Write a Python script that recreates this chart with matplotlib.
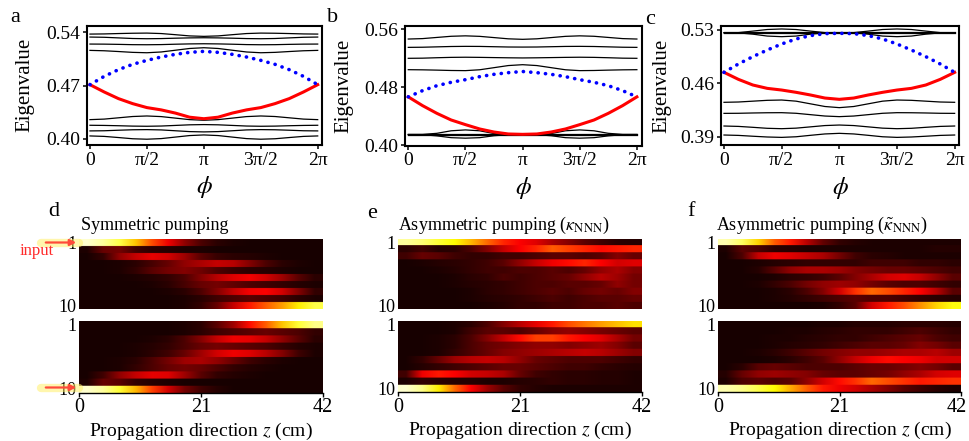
import numpy as np
import matplotlib.pyplot as plt
from matplotlib.transforms import ScaledTranslation

plt.rcParams['font.family'] = ['Liberation Serif', 'DejaVu Serif']
plt.rcParams['mathtext.fontset'] = 'stix'

W, H = 969, 441

# phase samples k*pi/8, k = 0..16
phi = np.linspace(0, 2 * np.pi, 17)
phi_ticks = [0, np.pi / 2, np.pi, 3 * np.pi / 2, 2 * np.pi]
phi_labels = ['0', 'π/2', 'π', '3π/2', '2π']

# ---- panel a: eigenvalues ----
a_bands = [
    [.5377, .5379, .5384, .5388, .5390, .5384, .5369, .5353, .5347, .5353, .5369, .5384, .5390, .5388, .5384, .5379, .5377],
    [.5338, .5335, .5327, .5319, .5316, .5318, .5323, .5327, .5329, .5327, .5323, .5318, .5316, .5319, .5327, .5335, .5338],
    [.5246, .5245, .5242, .5238, .5237, .5239, .5244, .5248, .5250, .5248, .5244, .5239, .5237, .5238, .5242, .5245, .5246],
    [.5163, .5158, .5148, .5137, .5132, .5142, .5165, .5188, .5198, .5188, .5165, .5142, .5132, .5137, .5148, .5158, .5163],
    [.4254, .4261, .4278, .4295, .4302, .4294, .4274, .4254, .4246, .4254, .4274, .4294, .4302, .4295, .4278, .4261, .4254],
    [.4180, .4178, .4174, .4169, .4167, .4170, .4178, .4186, .4189, .4186, .4178, .4170, .4167, .4169, .4174, .4178, .4180],
    [.4106, .4108, .4115, .4121, .4123, .4119, .4108, .4097, .4093, .4097, .4108, .4119, .4123, .4121, .4115, .4108, .4106],
    [.4040, .4034, .4019, .4003, .3997, .4005, .4025, .4045, .4053, .4045, .4025, .4005, .3997, .4003, .4019, .4034, .4040],
]
a_blue = [.4713, .4822, .4910, .4980, .5032, .5076, .5111, .5137, .5150, .5137, .5111, .5076, .5032, .4980, .4910, .4822, .4713]
a_red = [.4713, .4617, .4530, .4464, .4412, .4382, .4340, .4286, .4266, .4286, .4340, .4382, .4412, .4464, .4530, .4617, .4713]
a_yticks = [0.40, 0.47, 0.54]

# ---- panel b ----
b_bands = [
    [.5466, .5472, .5488, .5504, .5510, .5503, .5486, .5469, .5462, .5469, .5486, .5503, .5510, .5504, .5488, .5472, .5466],
    [.5351, .5353, .5358, .5363, .5365, .5364, .5360, .5356, .5355, .5356, .5360, .5364, .5365, .5363, .5358, .5353, .5351],
    [.5200, .5202, .5208, .5213, .5215, .5213, .5210, .5207, .5205, .5207, .5210, .5213, .5215, .5213, .5208, .5202, .5200],
    [.5043, .5041, .5037, .5032, .5030, .5042, .5071, .5100, .5112, .5100, .5071, .5042, .5030, .5032, .5037, .5041, .5043],
    [.4150, .4150, .4165, .4200, .4212, .4200, .4162, .4150, .4150, .4150, .4162, .4200, .4212, .4200, .4165, .4150, .4150],
    [.4146, .4146, .4130, .4105, .4098, .4105, .4132, .4146, .4146, .4146, .4132, .4105, .4098, .4105, .4130, .4146, .4146],
    [.4153, .4153, .4153, .4153, .4153, .4153, .4153, .4153, .4153, .4153, .4153, .4153, .4153, .4153, .4153, .4153, .4153],
    [.4141, .4141, .4141, .4141, .4141, .4141, .4141, .4141, .4141, .4141, .4141, .4141, .4141, .4141, .4141, .4141, .4141],
]
b_blue = [.4668, .4754, .4822, .4869, .4905, .4947, .4979, .5002, .5018, .5002, .4979, .4947, .4905, .4869, .4822, .4754, .4668]
b_red = [.4668, .4547, .4441, .4349, .4285, .4225, .4183, .4156, .4151, .4156, .4183, .4225, .4285, .4349, .4441, .4547, .4668]
b_yticks = [0.40, 0.48, 0.56]

# ---- panel c ----
c_bands = [
    [.5265, .5265, .5285, .5306, .5313, .5306, .5285, .5265, .5265, .5265, .5285, .5306, .5313, .5306, .5285, .5265, .5265],
    [.5262, .5262, .5245, .5220, .5212, .5220, .5245, .5262, .5262, .5262, .5245, .5220, .5212, .5220, .5245, .5262, .5262],
    [.5268, .5268, .5268, .5268, .5268, .5268, .5268, .5268, .5268, .5268, .5268, .5268, .5268, .5268, .5268, .5268, .5268],
    [.5259, .5259, .5259, .5259, .5259, .5259, .5259, .5259, .5259, .5259, .5259, .5259, .5259, .5259, .5259, .5259, .5259],
    [.4351, .4355, .4366, .4377, .4381, .4366, .4331, .4296, .4281, .4296, .4331, .4366, .4381, .4377, .4366, .4355, .4351],
    [.4206, .4207, .4211, .4214, .4215, .4207, .4189, .4171, .4163, .4171, .4189, .4207, .4215, .4214, .4211, .4207, .4206],
    [.4040, .4035, .4023, .4010, .4005, .4012, .4029, .4046, .4053, .4046, .4029, .4012, .4005, .4010, .4023, .4035, .4040],
    [.3922, .3917, .3906, .3896, .3891, .3899, .3918, .3936, .3944, .3936, .3918, .3899, .3891, .3896, .3906, .3917, .3922],
]
c_blue = [.4744, .4854, .4950, .5037, .5116, .5182, .5226, .5252, .5256, .5252, .5226, .5182, .5116, .5037, .4950, .4854, .4744]
c_red = [.4744, .4652, .4578, .4534, .4512, .4482, .4447, .4407, .4390, .4407, .4447, .4482, .4512, .4534, .4578, .4652, .4744]
c_yticks = [0.39, 0.46, 0.53]

# ---- propagation intensity, waveguides 1..10, z = 0, 3, ..., 42 cm ----
z_ticks = [0, 21, 42]

d_up = [
    [0.95, 0.90, 0.82, 0.66, 0.48, 0.34, 0.20, 0.10, 0.05, 0.03, 0.02, 0.02, 0.02, 0.02, 0.02],
    [0.03, 0.14, 0.16, 0.08, 0.05, 0.04, 0.03, 0.03, 0.02, 0.02, 0.02, 0.02, 0.02, 0.02, 0.02],
    [0.02, 0.06, 0.20, 0.28, 0.33, 0.30, 0.22, 0.12, 0.07, 0.05, 0.04, 0.03, 0.02, 0.02, 0.02],
    [0.02, 0.02, 0.03, 0.05, 0.09, 0.14, 0.20, 0.24, 0.28, 0.26, 0.18, 0.10, 0.05, 0.03, 0.02],
    [0.02, 0.02, 0.03, 0.06, 0.12, 0.16, 0.18, 0.15, 0.10, 0.07, 0.05, 0.04, 0.03, 0.02, 0.02],
    [0.02, 0.02, 0.02, 0.03, 0.04, 0.06, 0.10, 0.18, 0.26, 0.32, 0.35, 0.30, 0.22, 0.12, 0.05],
    [0.02, 0.02, 0.02, 0.02, 0.03, 0.05, 0.09, 0.14, 0.16, 0.13, 0.10, 0.08, 0.06, 0.04, 0.03],
    [0.02, 0.02, 0.02, 0.02, 0.02, 0.03, 0.05, 0.10, 0.18, 0.28, 0.35, 0.36, 0.30, 0.18, 0.06],
    [0.02, 0.02, 0.02, 0.02, 0.02, 0.02, 0.03, 0.05, 0.08, 0.10, 0.12, 0.10, 0.08, 0.05, 0.03],
    [0.02, 0.02, 0.02, 0.02, 0.02, 0.02, 0.03, 0.06, 0.14, 0.28, 0.40, 0.50, 0.60, 0.72, 0.82],
]
d_low = [
    [0.02, 0.02, 0.02, 0.02, 0.02, 0.02, 0.03, 0.05, 0.12, 0.22, 0.38, 0.50, 0.66, 0.80, 0.88],
    [0.02, 0.02, 0.02, 0.02, 0.02, 0.02, 0.03, 0.05, 0.08, 0.10, 0.12, 0.14, 0.12, 0.10, 0.06],
    [0.02, 0.02, 0.02, 0.02, 0.03, 0.05, 0.10, 0.18, 0.28, 0.34, 0.33, 0.28, 0.20, 0.12, 0.05],
    [0.02, 0.02, 0.02, 0.03, 0.04, 0.06, 0.10, 0.14, 0.16, 0.14, 0.12, 0.10, 0.07, 0.04, 0.03],
    [0.02, 0.02, 0.02, 0.03, 0.05, 0.08, 0.14, 0.22, 0.30, 0.34, 0.32, 0.26, 0.18, 0.08, 0.03],
    [0.02, 0.02, 0.03, 0.05, 0.10, 0.16, 0.22, 0.24, 0.20, 0.14, 0.08, 0.05, 0.03, 0.02, 0.02],
    [0.02, 0.02, 0.03, 0.06, 0.10, 0.14, 0.16, 0.14, 0.10, 0.06, 0.04, 0.03, 0.02, 0.02, 0.02],
    [0.02, 0.08, 0.20, 0.28, 0.33, 0.32, 0.22, 0.12, 0.06, 0.04, 0.03, 0.02, 0.02, 0.02, 0.02],
    [0.03, 0.14, 0.12, 0.06, 0.04, 0.03, 0.02, 0.02, 0.02, 0.02, 0.02, 0.02, 0.02, 0.02, 0.02],
    [0.95, 0.90, 0.80, 0.64, 0.46, 0.30, 0.16, 0.08, 0.04, 0.02, 0.02, 0.02, 0.02, 0.02, 0.02],
]
e_up = [
    [0.90, 0.86, 0.80, 0.74, 0.64, 0.52, 0.42, 0.36, 0.32, 0.24, 0.18, 0.12, 0.08, 0.05, 0.04],
    [0.05, 0.08, 0.04, 0.05, 0.10, 0.18, 0.28, 0.36, 0.42, 0.50, 0.46, 0.42, 0.38, 0.40, 0.42],
    [0.08, 0.14, 0.12, 0.08, 0.06, 0.06, 0.08, 0.08, 0.10, 0.12, 0.12, 0.10, 0.12, 0.18, 0.14],
    [0.02, 0.03, 0.04, 0.05, 0.06, 0.08, 0.12, 0.20, 0.28, 0.34, 0.38, 0.42, 0.36, 0.30, 0.32],
    [0.02, 0.02, 0.03, 0.04, 0.06, 0.08, 0.08, 0.10, 0.10, 0.12, 0.10, 0.14, 0.20, 0.24, 0.18],
    [0.02, 0.02, 0.02, 0.03, 0.05, 0.06, 0.10, 0.08, 0.10, 0.12, 0.14, 0.20, 0.26, 0.22, 0.16],
    [0.02, 0.02, 0.02, 0.03, 0.04, 0.05, 0.06, 0.08, 0.10, 0.10, 0.12, 0.12, 0.14, 0.20, 0.16],
    [0.02, 0.02, 0.02, 0.02, 0.03, 0.05, 0.06, 0.08, 0.10, 0.12, 0.10, 0.14, 0.16, 0.14, 0.18],
    [0.02, 0.02, 0.02, 0.02, 0.03, 0.04, 0.05, 0.06, 0.08, 0.10, 0.08, 0.10, 0.12, 0.12, 0.14],
    [0.02, 0.02, 0.02, 0.02, 0.02, 0.03, 0.04, 0.06, 0.06, 0.08, 0.08, 0.10, 0.10, 0.12, 0.10],
]
e_low = [
    [0.02, 0.02, 0.02, 0.03, 0.05, 0.10, 0.18, 0.26, 0.33, 0.40, 0.48, 0.54, 0.60, 0.65, 0.70],
    [0.02, 0.02, 0.02, 0.03, 0.08, 0.12, 0.12, 0.10, 0.14, 0.18, 0.20, 0.18, 0.16, 0.14, 0.12],
    [0.02, 0.02, 0.03, 0.05, 0.10, 0.18, 0.28, 0.38, 0.46, 0.46, 0.40, 0.36, 0.32, 0.24, 0.16],
    [0.02, 0.02, 0.03, 0.05, 0.10, 0.14, 0.16, 0.18, 0.20, 0.20, 0.18, 0.20, 0.22, 0.18, 0.12],
    [0.02, 0.02, 0.03, 0.06, 0.10, 0.14, 0.18, 0.20, 0.22, 0.24, 0.26, 0.28, 0.26, 0.22, 0.18],
    [0.02, 0.06, 0.14, 0.22, 0.26, 0.28, 0.26, 0.20, 0.14, 0.12, 0.10, 0.10, 0.10, 0.08, 0.06],
    [0.02, 0.04, 0.06, 0.08, 0.10, 0.12, 0.14, 0.14, 0.12, 0.10, 0.08, 0.08, 0.06, 0.05, 0.04],
    [0.08, 0.34, 0.40, 0.36, 0.30, 0.28, 0.24, 0.14, 0.08, 0.06, 0.05, 0.05, 0.04, 0.04, 0.03],
    [0.03, 0.06, 0.05, 0.04, 0.04, 0.03, 0.03, 0.04, 0.05, 0.06, 0.05, 0.05, 0.04, 0.04, 0.03],
    [0.95, 0.88, 0.72, 0.52, 0.36, 0.22, 0.12, 0.06, 0.04, 0.03, 0.03, 0.03, 0.03, 0.03, 0.03],
]
f_up = [
    [0.92, 0.84, 0.68, 0.50, 0.40, 0.26, 0.13, 0.06, 0.04, 0.03, 0.03, 0.03, 0.03, 0.03, 0.03],
    [0.03, 0.12, 0.10, 0.05, 0.04, 0.03, 0.03, 0.03, 0.03, 0.03, 0.03, 0.03, 0.03, 0.04, 0.04],
    [0.02, 0.10, 0.28, 0.34, 0.32, 0.28, 0.24, 0.16, 0.08, 0.05, 0.04, 0.03, 0.03, 0.03, 0.03],
    [0.02, 0.02, 0.03, 0.04, 0.05, 0.06, 0.06, 0.06, 0.06, 0.08, 0.08, 0.08, 0.06, 0.06, 0.05],
    [0.02, 0.02, 0.04, 0.12, 0.20, 0.24, 0.24, 0.22, 0.18, 0.16, 0.14, 0.14, 0.12, 0.10, 0.08],
    [0.02, 0.02, 0.02, 0.03, 0.05, 0.06, 0.08, 0.12, 0.18, 0.24, 0.30, 0.32, 0.28, 0.20, 0.12],
    [0.02, 0.02, 0.03, 0.06, 0.10, 0.16, 0.20, 0.22, 0.20, 0.16, 0.12, 0.10, 0.10, 0.08, 0.06],
    [0.02, 0.02, 0.02, 0.03, 0.05, 0.10, 0.18, 0.30, 0.44, 0.52, 0.48, 0.42, 0.36, 0.26, 0.12],
    [0.02, 0.02, 0.02, 0.03, 0.04, 0.06, 0.08, 0.10, 0.12, 0.10, 0.10, 0.08, 0.06, 0.05, 0.04],
    [0.02, 0.02, 0.02, 0.02, 0.02, 0.02, 0.03, 0.06, 0.12, 0.30, 0.40, 0.48, 0.58, 0.68, 0.76],
]
f_low = [
    [0.02, 0.02, 0.02, 0.02, 0.02, 0.02, 0.03, 0.03, 0.04, 0.04, 0.04, 0.05, 0.05, 0.05, 0.04],
    [0.02, 0.02, 0.02, 0.02, 0.03, 0.03, 0.04, 0.05, 0.06, 0.06, 0.06, 0.08, 0.10, 0.08, 0.06],
    [0.02, 0.02, 0.02, 0.03, 0.03, 0.04, 0.05, 0.06, 0.06, 0.08, 0.10, 0.12, 0.14, 0.10, 0.08],
    [0.02, 0.02, 0.02, 0.03, 0.04, 0.05, 0.06, 0.08, 0.10, 0.12, 0.12, 0.14, 0.18, 0.16, 0.12],
    [0.02, 0.02, 0.03, 0.05, 0.08, 0.12, 0.16, 0.18, 0.20, 0.20, 0.22, 0.24, 0.24, 0.26, 0.22],
    [0.02, 0.02, 0.02, 0.03, 0.05, 0.08, 0.12, 0.20, 0.28, 0.34, 0.38, 0.36, 0.34, 0.30, 0.30],
    [0.02, 0.05, 0.12, 0.14, 0.12, 0.10, 0.10, 0.10, 0.12, 0.14, 0.14, 0.16, 0.18, 0.16, 0.12],
    [0.04, 0.14, 0.20, 0.22, 0.20, 0.18, 0.14, 0.12, 0.12, 0.14, 0.16, 0.20, 0.24, 0.30, 0.32],
    [0.03, 0.10, 0.12, 0.10, 0.12, 0.20, 0.30, 0.38, 0.44, 0.52, 0.48, 0.44, 0.40, 0.42, 0.44],
    [0.92, 0.88, 0.82, 0.74, 0.62, 0.50, 0.40, 0.34, 0.30, 0.24, 0.18, 0.12, 0.08, 0.05, 0.03],
]


def box(x0, y0, x1, y1):
    # pixel box -> figure fraction
    return [x0 / W, 1 - y1 / H, (x1 - x0) / W, (y1 - y0) / H]


fig = plt.figure(figsize=(W / 100, H / 100), dpi=100)


def band_panel(rect, bands, blue, red, ylim, yticks, ylab_x):
    ax = fig.add_axes(rect)
    for b in bands:
        ax.plot(phi, b, color='black', lw=0.9)
    ax.plot(phi, red, color='red', lw=2.2, zorder=3)
    ax.plot(phi, blue, color='blue', lw=2.6, linestyle=(0, (0.05, 2.0)),
            dash_capstyle='round', zorder=4)
    ax.set_xlim(-0.09, 6.41)
    ax.set_ylim(*ylim)
    ax.set_xticks(phi_ticks)
    ax.set_xticklabels(phi_labels)
    ax.set_yticks(yticks)
    ax.set_yticklabels([f'{v:.2f}' for v in yticks])
    ax.tick_params(direction='out', length=3, width=1.1, labelsize=14, pad=2)
    for s in ax.spines.values():
        s.set_linewidth(1.5)
    ax.set_xlabel(r'$\phi$', fontsize=18)
    ax.xaxis.set_label_coords(0.5, -0.25)
    ax.set_ylabel('Eigenvalue', fontsize=15)
    ax.yaxis.set_label_coords(ylab_x, 0.5)
    return ax


def heat(rect, data, bottom_axis):
    ax = fig.add_axes(rect)
    img = np.repeat(np.array(data), 8, axis=0)
    ax.imshow(img, cmap='hot', vmin=0, vmax=1, aspect='auto',
              interpolation='bilinear', extent=(0, 42, 10.5, 0.5))
    ax.set_xlim(0, 42)
    ax.set_ylim(10.5, 0.5)
    ax.set_yticks([1, 10])
    ax.set_yticklabels(['1', '10'])
    ax.tick_params(axis='y', length=0, labelsize=13, pad=2)
    for s in ['top', 'right', 'left']:
        ax.spines[s].set_visible(False)
    if bottom_axis:
        ax.set_xticks(z_ticks)
        ax.tick_params(axis='x', direction='out', length=3, width=1,
                       labelsize=14.5, pad=1)
        ax.spines['bottom'].set_linewidth(1)
        ax.set_xlabel(r'Propagation direction $z$ (cm)', fontsize=14)
        ax.xaxis.set_label_coords(0.5, -0.39)
    else:
        ax.spines['bottom'].set_visible(False)
        ax.set_xticks([])
    return ax


band_panel(box(86.7, 25.7, 322.3, 144.7), a_bands, a_blue, a_red, (0.3925, 0.5487), a_yticks, -0.22)
band_panel(box(405, 25.7, 641.5, 145.5), b_bands, b_blue, b_red, (0.3997, 0.565), b_yticks, -0.22)
band_panel(box(720.7, 26, 959.3, 145), c_bands, c_blue, c_red, (0.3791, 0.5352), c_yticks, -0.205)

heat(box(79, 239.3, 322.7, 309.3), d_up, False)
heat(box(79, 320.5, 322.7, 392.5), d_low, True)
heat(box(398, 238.5, 641.7, 309.3), e_up, False)
heat(box(398, 320.7, 641.7, 392), e_low, True)
heat(box(718, 238.5, 961, 309.3), f_up, False)
ax_f = heat(box(718, 320.7, 961, 392), f_low, True)
# keep the last z label inside the canvas
fig.canvas.draw()
last = ax_f.get_xticklabels()[-1]
last.set_transform(last.get_transform() + ScaledTranslation(-0.04, 0, fig.dpi_scale_trans))

# overlay in pixel coordinates for letters, titles and input arrows
ov = fig.add_axes([0, 0, 1, 1], zorder=10)
ov.set_xlim(0, W)
ov.set_ylim(H, 0)
ov.axis('off')

for letter, x, y in [('a', 15, 18), ('b', 333, 17), ('c', 650, 19),
                     ('d', 54, 212), ('e', 372, 213), ('f', 691, 212)]:
    ov.text(x, y, letter, fontsize=16, ha='center', va='center')

ov.text(81, 225, 'Symmetric pumping', fontsize=13, ha='left', va='center')
ov.text(398, 225, r'Asymmetric pumping ($\kappa_{\mathrm{NNN}}$)', fontsize=13, ha='left', va='center')
ov.text(716, 225, r'Asymmetric pumping ($\tilde{\kappa}_{\mathrm{NNN}}$)', fontsize=13, ha='left', va='center')

ov.text(37, 251, 'input', fontsize=12, color='#ff2a2a', ha='center', va='center')
for y in (242.5, 387.5):
    ov.plot([41, 79], [y, y], color='#fff06a', lw=6, alpha=0.55, solid_capstyle='round')
    ov.annotate('', xy=(79, y), xytext=(43, y),
                arrowprops=dict(arrowstyle='-|>', color='#ff4a3a', lw=1.6, mutation_scale=9))

fig.savefig('out.png', dpi=100)
